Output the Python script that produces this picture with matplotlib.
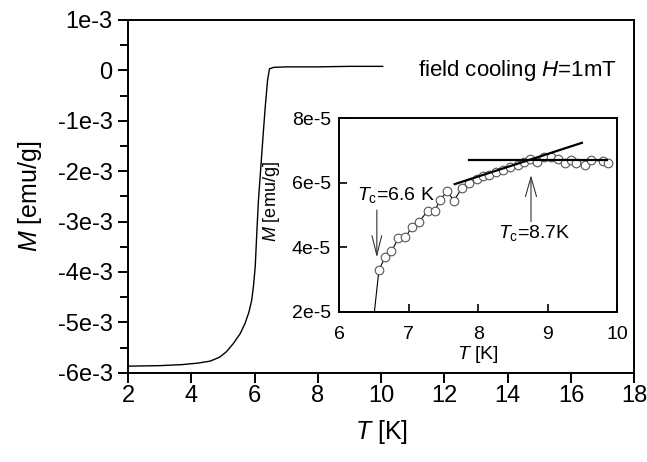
import matplotlib
matplotlib.use("Agg")
import matplotlib.pyplot as plt
import numpy as np

plt.rcParams['font.family'] = ['Liberation Sans', 'DejaVu Sans']
plt.rcParams['mathtext.fontset'] = 'custom'
plt.rcParams['mathtext.rm'] = 'Liberation Sans'
plt.rcParams['mathtext.it'] = 'Liberation Sans:italic'
plt.rcParams['mathtext.bf'] = 'Liberation Sans:bold'

# ---- main curve: field-cooled magnetisation ----
main_T = [2.0, 3.0, 3.7, 4.2, 4.6, 4.9, 5.1, 5.33, 5.55, 5.70, 5.82, 5.91,
          5.97, 6.02, 6.07, 6.12, 6.20, 6.28, 6.34, 6.41, 6.47, 6.6, 7.0,
          8.0, 9.0, 10.05]
main_M = [-5.87e-3, -5.86e-3, -5.84e-3, -5.81e-3, -5.77e-3, -5.69e-3,
          -5.59e-3, -5.42e-3, -5.22e-3, -5.02e-3, -4.80e-3, -4.56e-3,
          -4.25e-3, -3.90e-3, -3.23e-3, -2.60e-3, -1.90e-3, -1.20e-3,
          -0.70e-3, -0.20e-3, 0.03e-3, 0.06e-3, 0.07e-3, 0.07e-3, 0.08e-3,
          0.08e-3]

main_xticks = [2, 4, 6, 8, 10, 12, 14, 16, 18]
main_yticks = [1e-3, 0, -1e-3, -2e-3, -3e-3, -4e-3, -5e-3, -6e-3]
main_ylabels = ['1e-3', '0', '-1e-3', '-2e-3', '-3e-3', '-4e-3', '-5e-3', '-6e-3']

# ---- inset: zoom near Tc ----
ins_T = [6.45, 6.57, 6.66, 6.75, 6.85, 6.95, 7.04, 7.15, 7.27, 7.37, 7.45,
         7.55, 7.65, 7.76, 7.87, 7.98, 8.07, 8.16, 8.26, 8.35, 8.46, 8.57,
         8.66, 8.74, 8.84, 8.95, 9.05, 9.15, 9.25, 9.33, 9.41, 9.53, 9.62,
         9.80, 9.86]
ins_M = [0.9e-5, 3.30e-5, 3.71e-5, 3.88e-5, 4.28e-5, 4.31e-5, 4.62e-5,
         4.80e-5, 5.13e-5, 5.12e-5, 5.47e-5, 5.74e-5, 5.45e-5, 5.83e-5,
         6.00e-5, 6.13e-5, 6.21e-5, 6.24e-5, 6.35e-5, 6.40e-5, 6.48e-5,
         6.55e-5, 6.65e-5, 6.74e-5, 6.65e-5, 6.80e-5, 6.79e-5, 6.75e-5,
         6.62e-5, 6.71e-5, 6.60e-5, 6.55e-5, 6.70e-5, 6.68e-5, 6.60e-5]

fit_flat_T = [7.86, 9.85]
fit_flat_M = [6.70e-5, 6.70e-5]
fit_slope_T = [7.66, 9.49]
fit_slope_M = [5.96e-5, 7.24e-5]

ins_xticks = [6, 7, 8, 9, 10]
ins_yticks = [2e-5, 4e-5, 6e-5, 8e-5]
ins_ylabels = ['2e-5', '4e-5', '6e-5', '8e-5']

W, H = 647, 462
fig = plt.figure(figsize=(W / 100, H / 100), dpi=100)

ax = fig.add_axes([128 / W, 1 - 372.7 / H, (634.3 - 128) / W, (372.7 - 20) / H])
ax.plot(main_T, main_M, color='black', lw=1.0)
ax.set_xlim(2, 18)
ax.set_ylim(-6e-3, 1e-3)
ax.set_xticks(main_xticks)
ax.set_xticklabels([str(t) for t in main_xticks])
ax.set_yticks(main_yticks)
ax.set_yticklabels(main_ylabels)
ax.set_yticks(np.arange(-5.5e-3, 1e-3, 1e-3), minor=True)
ax.tick_params(axis='both', which='major', direction='out', length=7, width=1.4,
               labelsize=17)
ax.tick_params(axis='x', which='major', pad=2)
ax.tick_params(axis='y', which='major', pad=4)
ax.tick_params(axis='y', which='minor', direction='out', length=5.5, width=1.4)
for s in ax.spines.values():
    s.set_linewidth(1.4)
ax.set_xlabel(r'$\mathit{T}$ [K]', fontsize=18, labelpad=8)
ax.set_ylabel(r'$\mathit{M}$ [emu/g]', fontsize=18, labelpad=10)
ax.text(11.15, 0.0, r'field cooling $\mathit{H}$=1mT', fontsize=16, va='center', ha='left')

# inset
ia = fig.add_axes([339.3 / W, 1 - 312 / H, (617.3 - 339.3) / W, (312 - 118.3) / H])
ia.plot(ins_T, ins_M, color='black', lw=0.8, marker='o', markersize=6.2,
        markerfacecolor='white', markeredgecolor='#555555', markeredgewidth=0.8)
ia.plot(fit_flat_T, fit_flat_M, color='black', lw=1.6)
ia.plot(fit_slope_T, fit_slope_M, color='black', lw=1.6)
ia.set_xlim(6, 10)
ia.set_ylim(2e-5, 8e-5)
ia.set_xticks(ins_xticks)
ia.set_xticklabels([str(t) for t in ins_xticks])
ia.set_yticks(ins_yticks)
ia.set_yticklabels(ins_ylabels)
ia.tick_params(axis='both', direction='in', length=6, width=1.2, labelsize=14)
ia.tick_params(axis='x', pad=10)
ia.tick_params(axis='y', pad=6)
for s in ia.spines.values():
    s.set_linewidth(1.4)
ia.set_xlabel(r'$\mathit{T}$ [K]', fontsize=14, labelpad=1)
ia.set_ylabel(r'$\mathit{M}$ [emu/g]', fontsize=13, labelpad=2)
ia.yaxis.set_label_coords(-0.205, 0.57)

ia.annotate('', xy=(6.54, 3.69e-5), xytext=(6.54, 5.16e-5),
            arrowprops=dict(arrowstyle='->,head_length=1.4,head_width=0.35',
                            color='#333333', lw=0.8, shrinkA=0, shrinkB=0))
ia.annotate('', xy=(8.758, 6.24e-5), xytext=(8.758, 4.80e-5),
            arrowprops=dict(arrowstyle='->,head_length=1.4,head_width=0.4',
                            color='#333333', lw=0.8, shrinkA=0, shrinkB=0))
ia.text(6.25, 5.47e-5, r'$\mathit{T}_\mathrm{c}$=6.6 K', fontsize=14, va='baseline')
ia.text(8.29, 4.28e-5, r'$\mathit{T}_\mathrm{c}$=8.7K', fontsize=14, va='baseline')

fig.savefig('out.png', dpi=100)
